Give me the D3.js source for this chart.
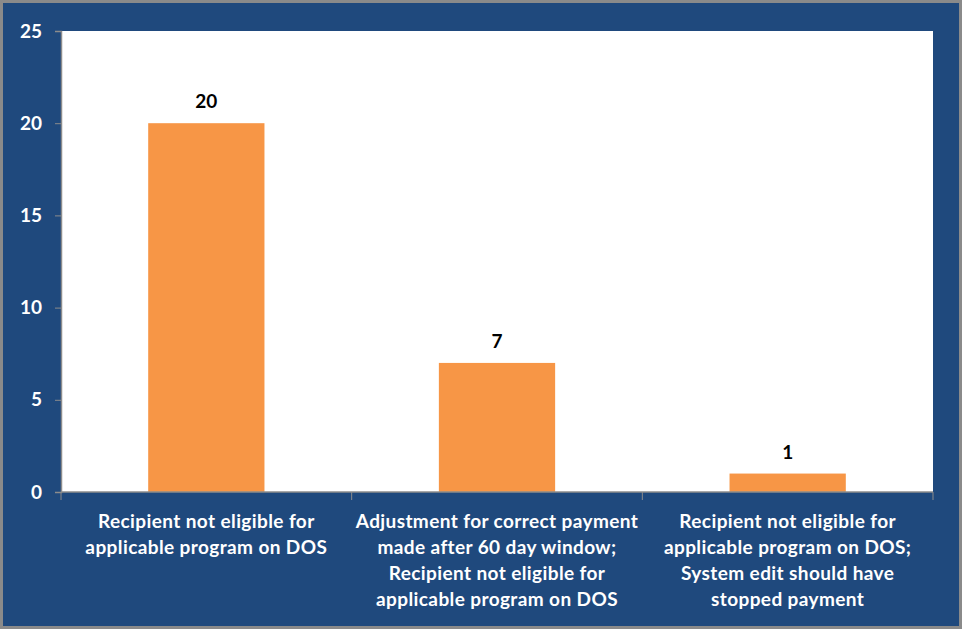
<!DOCTYPE html>
<html>
<head>
<meta charset="utf-8">
<script src="https://cdn.jsdelivr.net/npm/d3@7"></script>
<style>
  html, body { margin: 0; padding: 0; background: #ffffff; }
  svg { display: block; }
</style>
</head>
<body>
<svg id="chart" width="962" height="629"></svg>
<script>
// Reasons for payment errors and their counts
const categories = [
  ["Recipient not eligible for", "applicable program on DOS"],
  ["Adjustment for correct payment", "made after 60 day window;", "Recipient not eligible for", "applicable program on DOS"],
  ["Recipient not eligible for", "applicable program on DOS;", "System edit should have", "stopped payment"]
];
const values = [20, 7, 1];
const yTicks = [0, 5, 10, 15, 20, 25];

const W = 962, H = 629;
const plot = { left: 61, right: 933, top: 31, bottom: 492 };
const font = "Lato, 'Open Sans', sans-serif";

const svg = d3.select("#chart");

// Frame and dark blue background
svg.append("rect").attr("x", 0).attr("y", 0).attr("width", W).attr("height", H).attr("fill", "#8a8a8a");
svg.append("rect").attr("x", 3).attr("y", 3).attr("width", W - 6).attr("height", H - 6).attr("fill", "#1f497d");

// Plot area
svg.append("rect")
  .attr("x", plot.left).attr("y", plot.top)
  .attr("width", plot.right - plot.left).attr("height", plot.bottom - plot.top)
  .attr("fill", "#ffffff");

const x = d3.scaleBand().domain(d3.range(categories.length)).range([plot.left, plot.right]).padding(0);
const y = d3.scaleLinear().domain([0, 25]).range([plot.bottom, plot.top]);

const barW = x.bandwidth() * 0.4;

// Bars
svg.append("g").selectAll("rect").data(values).join("rect")
  .attr("x", (d, i) => x(i) + x.bandwidth() / 2 - barW / 2)
  .attr("y", d => y(d))
  .attr("width", barW)
  .attr("height", d => y(0) - y(d))
  .attr("fill", "#f79646");

// Value labels
svg.append("g").selectAll("text").data(values).join("text")
  .attr("x", (d, i) => x(i) + x.bandwidth() / 2)
  .attr("y", d => y(d) - 15)
  .attr("text-anchor", "middle")
  .attr("font-family", font)
  .attr("font-weight", "bold")
  .attr("font-size", 19)
  .attr("fill", "#000000")
  .text(d => d);

// Y axis
const yAxis = svg.append("g")
  .attr("transform", `translate(${plot.left},0)`)
  .call(d3.axisLeft(y).tickValues(yTicks).tickSize(6).tickPadding(13));
yAxis.select(".domain").attr("stroke", "#8c8c8c").attr("stroke-width", 1.5);
yAxis.selectAll(".tick line").attr("stroke", "#8c8c8c");
yAxis.selectAll(".tick text")
  .attr("fill", "#ffffff")
  .attr("font-family", font)
  .attr("font-weight", "bold")
  .attr("font-size", 19);

// X axis with ticks between categories
const xAxis = svg.append("g").attr("transform", `translate(0,${plot.bottom})`);
xAxis.append("line")
  .attr("x1", plot.left).attr("x2", plot.right)
  .attr("stroke", "#8c8c8c").attr("stroke-width", 1.5);
const boundaries = d3.range(categories.length + 1).map(i => i < categories.length ? x(i) : plot.right);
xAxis.selectAll(".sep").data(boundaries).join("line")
  .attr("class", "sep")
  .attr("x1", d => d).attr("x2", d => d)
  .attr("y1", 0).attr("y2", 8)
  .attr("stroke", "#8c8c8c");

// Category labels
const catG = svg.append("g");
categories.forEach((lines, i) => {
  const t = catG.append("text")
    .attr("x", x(i) + x.bandwidth() / 2)
    .attr("y", 528)
    .attr("text-anchor", "middle")
    .attr("font-family", font)
    .attr("font-weight", "bold")
    .attr("font-size", 19)
    .attr("letter-spacing", 0.4)
    .attr("fill", "#ffffff");
  lines.forEach((ln, j) => {
    t.append("tspan")
      .attr("x", x(i) + x.bandwidth() / 2)
      .attr("dy", j === 0 ? 0 : 26)
      .text(ln);
  });
});
</script>
</body>
</html>
